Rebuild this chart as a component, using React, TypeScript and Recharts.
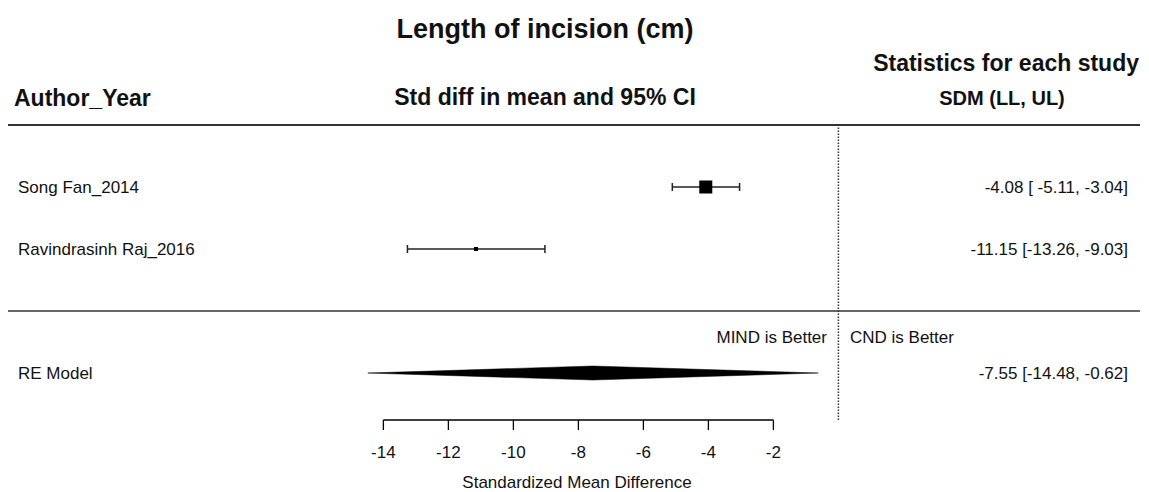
import React from 'react';
import { ComposedChart, XAxis, YAxis, Scatter, ErrorBar, Area, ReferenceLine } from 'recharts';

// ---- data ----
const studies = ['Song Fan_2014', 'Ravindrasinh Raj_2016'];
const estimates = [-4.08, -11.15];
const lowerCI = [-5.11, -13.26];
const upperCI = [-3.04, -9.03];
const studyRows = [1, 2];

const reLabel = 'RE Model';
const reEstimate = -7.55;
const reLower = -14.48;
const reUpper = -0.62;
const reRow = 4;

const xTicks = [-14, -12, -10, -8, -6, -4, -2];

// ---- layout constants ----
const W = 1149;
const H = 492;
const X_MIN = -25.55;
const X_MAX = 9.28;
const Y_MAX = 4.758;
const FONT = "'Liberation Sans', Arial, Helvetica, sans-serif";
const MIN_SIDE = 4;
const MAX_SIDE = 13;
const DIAMOND_HALF = 7 / 62;

const precision = studies.map((_, i) => 3.92 / (upperCI[i] - lowerCI[i]));
const pMin = Math.min(...precision);
const pMax = Math.max(...precision);

const studyData = studies.map((name, i) => ({
  x: estimates[i],
  y: studyRows[i],
  err: [estimates[i] - lowerCI[i], upperCI[i] - estimates[i]],
  side: MIN_SIDE + ((precision[i] - pMin) / (pMax - pMin || 1)) * (MAX_SIDE - MIN_SIDE),
}));

const diamondData = [
  { x: reLower, band: [reRow, reRow] },
  { x: reEstimate, band: [reRow - DIAMOND_HALF, reRow + DIAMOND_HALF] },
  { x: reUpper, band: [reRow, reRow] },
];

const allLo = [...lowerCI, reLower].map((v) => v.toFixed(2));
const loWidth = Math.max(...allLo.map((s) => s.length));
const allHi = [...upperCI, reUpper].map((v) => v.toFixed(2));
const hiWidth = Math.max(...allHi.map((s) => s.length));
const fmt = (e: number, l: number, u: number) =>
  `${e.toFixed(2)} [${l.toFixed(2).padStart(loWidth, ' ')}, ${u.toFixed(2).padStart(hiWidth, ' ')}]`;

const labelData = [
  ...studies.map((name, i) => ({ x: estimates[i], y: studyRows[i], name, stat: fmt(estimates[i], lowerCI[i], upperCI[i]) })),
  { x: reEstimate, y: reRow, name: reLabel, stat: fmt(reEstimate, reLower, reUpper) },
];

const RowLabel = (props: any) => {
  const { cy, payload } = props;
  return (
    <g>
      <text x={18} y={cy + 6} fontSize={17} fontFamily={FONT} fill="#111">
        {payload.name}
      </text>
      <text x={1128} y={cy + 6} fontSize={17} fontFamily={FONT} fill="#111" textAnchor="end" style={{ whiteSpace: 'pre' }}>
        {payload.stat}
      </text>
    </g>
  );
};

const StudyMarker = (props: any) => {
  const { cx, cy, payload } = props;
  const s = payload.side;
  return <rect x={cx - s / 2} y={cy - s / 2} width={s} height={s} fill="#000" />;
};

export default function App() {
  return (
    <div style={{ position: 'absolute', left: 0, top: 0, background: '#fff' }}>
      <ComposedChart width={W} height={H} margin={{ top: 125, left: 8, right: 9, bottom: 22 }}>
        <XAxis
          dataKey="x"
          type="number"
          domain={[X_MIN, X_MAX]}
          allowDataOverflow
          ticks={xTicks}
          interval={0}
          axisLine={false}
          tickLine={{ stroke: '#000', strokeWidth: 1.3 }}
          tickSize={10}
          tickMargin={16}
          height={50}
          tick={{ fontSize: 17, fontFamily: FONT, fill: '#111' }}
        />
        <YAxis yAxisId="rows" type="number" domain={[0, Y_MAX]} allowDataOverflow reversed hide />
        <ReferenceLine yAxisId="rows" y={0} stroke="#333" strokeWidth={2} ifOverflow="visible" />
        <ReferenceLine yAxisId="rows" y={3} stroke="#333" strokeWidth={1.5} ifOverflow="visible" />
        <ReferenceLine yAxisId="rows" x={0} stroke="#333" strokeWidth={1.5} strokeDasharray="1.5 1.5" ifOverflow="visible" />
        <ReferenceLine
          yAxisId="rows"
          segment={[{ x: xTicks[0], y: Y_MAX }, { x: xTicks[xTicks.length - 1], y: Y_MAX }]}
          stroke="#000"
          strokeWidth={1.3}
          ifOverflow="visible"
        />
        <Area
          yAxisId="rows"
          data={diamondData}
          dataKey="band"
          type="linear"
          fill="#000"
          fillOpacity={1}
          stroke="#000"
          strokeWidth={0.5}
          isAnimationActive={false}
          dot={false}
          activeDot={false}
        />
        <Scatter
          yAxisId="rows"
          data={studyData}
          dataKey="y"
          shape={<StudyMarker />}
          isAnimationActive={false}
        >
          <ErrorBar dataKey="err" direction="x" width={4} stroke="#222" strokeWidth={1.5} />
        </Scatter>
        <Scatter yAxisId="rows" data={labelData} dataKey="y" shape={<RowLabel />} isAnimationActive={false} />
        <text x={545} y={38} textAnchor="middle" fontSize={27} fontWeight="bold" fontFamily={FONT} fill="#111">
          Length of incision (cm)
        </text>
        <text x={1139} y={71} textAnchor="end" fontSize={23} fontWeight="bold" fontFamily={FONT} fill="#111">
          Statistics for each study
        </text>
        <text x={14} y={106} fontSize={23} fontWeight="bold" fontFamily={FONT} fill="#111">
          Author_Year
        </text>
        <text x={545} y={105} textAnchor="middle" fontSize={23} fontWeight="bold" fontFamily={FONT} fill="#111">
          Std diff in mean and 95% CI
        </text>
        <text x={1002} y={105} textAnchor="middle" fontSize={20} fontWeight="bold" fontFamily={FONT} fill="#111">
          SDM (LL, UL)
        </text>
        <text x={827} y={343} textAnchor="end" fontSize={17} fontFamily={FONT} fill="#111">
          MIND is Better
        </text>
        <text x={850} y={343} fontSize={17} fontFamily={FONT} fill="#111">
          CND is Better
        </text>
        <text x={577} y={488} textAnchor="middle" fontSize={17} fontFamily={FONT} fill="#111">
          Standardized Mean Difference
        </text>
      </ComposedChart>
    </div>
  );
}
